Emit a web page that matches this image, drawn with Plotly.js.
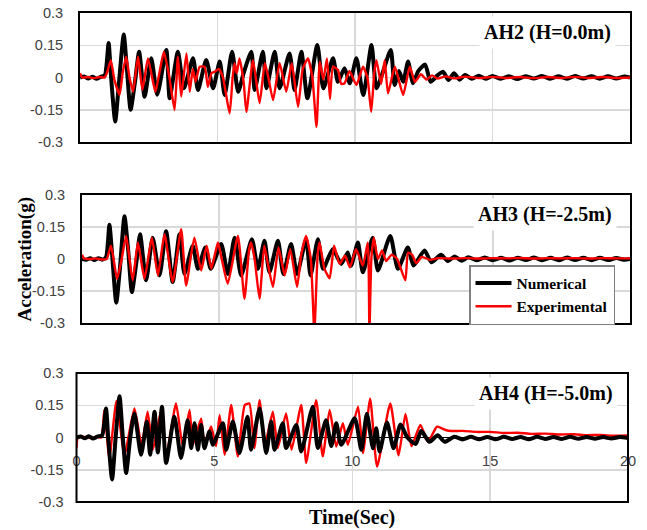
<!DOCTYPE html>
<html><head><meta charset="utf-8">
<script src="https://cdn.plot.ly/plotly-3.0.1.min.js"></script>
<style>html,body{margin:0;padding:0;background:#fff}</style>
</head><body>
<div id="chart" style="width:647px;height:530px"></div>
<script>
// ---- Data: [time (s), acceleration (g)] ----
const AH2_num = [[0,0],[0.15,0.005],[0.3,-0.005],[0.45,0.004],[0.6,-0.006],[0.75,0.003],[0.9,0.01],[1.04,0.16],[1.12,0.02],[1.28,-0.205],[1.4,-0.05],[1.59,0.2],[1.7,0.05],[1.84,-0.15],[2.0,-0.02],[2.15,0.12],[2.35,-0.09],[2.59,0.09],[2.81,-0.08],[3.14,0.128],[3.26,-0.097],[3.56,0.12],[3.78,-0.05],[4.11,0.089],[4.29,-0.058],[4.59,0.081],[4.84,-0.05],[5.08,0.074],[5.26,-0.081],[5.53,0.12],[5.75,-0.066],[5.95,0.02],[6.23,0.12],[6.35,-0.058],[6.65,0.12],[6.78,-0.05],[7.08,0.12],[7.26,-0.05],[7.62,0.112],[7.8,-0.058],[8.05,0.12],[8.27,-0.097],[8.63,0.151],[8.85,-0.05],[9.2,0.089],[9.38,-0.02],[9.62,0.043],[9.81,-0.027],[10.05,0.089],[10.3,-0.081],[10.6,0.151],[10.78,-0.05],[11.0,0.02],[11.3,0.128],[11.44,-0.035],[11.6,0.03],[11.75,-0.02],[11.93,0.074],[12.11,-0.027],[12.3,0.03],[12.55,0.06],[12.75,-0.02],[13.0,0.01],[13.2,0.027],[13.4,-0.012],[13.6,0.02],[13.8,-0.01],[14.0,0.012],[14.25,-0.006],[14.5,0.008],[14.75,-0.006],[15.0,0.007],[15.3,-0.006],[15.6,0.006],[15.9,-0.007],[16.2,0.006],[16.5,-0.005],[16.8,0.007],[17.1,-0.006],[17.4,0.006],[17.7,-0.006],[18.0,0.007],[18.3,-0.005],[18.6,0.006],[18.9,-0.006],[19.2,0.006],[19.5,-0.005],[19.8,0.005],[20,0]];
const AH2_exp = [[0,0.02],[0.08,0],[0.3,0.002],[0.5,-0.003],[0.7,0.002],[0.9,0],[1.0,0.03],[1.12,0.08],[1.25,-0.01],[1.44,-0.08],[1.55,0.02],[1.68,0.097],[1.8,0],[1.93,-0.066],[2.11,0.097],[2.27,-0.058],[2.47,0.089],[2.74,-0.066],[2.9,0.03],[3.05,0.12],[3.25,0],[3.44,-0.151],[3.56,0.097],[3.68,-0.089],[3.87,0.112],[3.99,-0.066],[4.1,0.04],[4.2,-0.02],[4.35,0.05],[4.53,0.05],[4.65,-0.043],[4.78,0.02],[4.9,0.027],[5.05,0.04],[5.2,0],[5.44,-0.167],[5.55,0],[5.62,0.066],[5.7,0.02],[5.8,0.089],[5.95,-0.02],[6.05,-0.16],[6.29,0.081],[6.53,-0.12],[6.72,0.066],[6.85,0],[7.02,-0.105],[7.26,0.066],[7.5,-0.066],[7.7,0.066],[7.93,-0.136],[8.1,0.04],[8.29,0.089],[8.45,0],[8.6,-0.229],[8.72,0.074],[8.85,-0.01],[8.98,0.089],[9.09,-0.1],[9.2,0.05],[9.38,0.035],[9.5,-0.03],[9.62,-0.027],[9.8,0.03],[10.05,-0.035],[10.29,0.05],[10.45,0],[10.59,-0.159],[10.7,0.02],[10.78,0.081],[10.95,-0.03],[11.08,0.081],[11.2,-0.074],[11.45,0.05],[11.75,-0.081],[11.99,0.05],[12.18,-0.02],[12.4,0.015],[12.6,-0.01],[12.8,0.01],[13.0,-0.005],[13.3,0.005],[13.6,-0.004],[14.0,0.004],[14.5,-0.003],[15.0,0.003],[15.5,-0.002],[16,0.002],[16.5,-0.003],[17,0.002],[17.5,-0.002],[18,0.003],[18.5,-0.002],[19,0.002],[19.5,-0.002],[20,0]];

const AH3_num = [[0,0],[0.15,-0.004],[0.3,0.004],[0.45,-0.005],[0.6,0.004],[0.75,-0.003],[0.88,0.01],[1.0,0.16],[1.1,0.02],[1.25,-0.205],[1.38,-0.05],[1.55,0.2],[1.68,0.05],[1.82,-0.155],[1.98,-0.02],[2.12,0.116],[2.34,-0.1],[2.58,0.1],[2.83,-0.077],[3.07,0.13],[3.31,-0.108],[3.56,0.116],[3.74,-0.07],[4.04,0.062],[4.23,-0.046],[4.5,0.054],[4.7,-0.046],[5.08,0.07],[5.32,-0.07],[5.57,0.1],[5.81,-0.077],[6.2,0.093],[6.42,-0.046],[6.66,0.085],[6.84,-0.062],[7.15,0.085],[7.35,-0.07],[7.63,0.07],[7.85,-0.07],[8.18,0.093],[8.34,-0.077],[8.61,0.093],[8.8,-0.046],[9.15,0.046],[9.46,-0.023],[9.7,0.031],[9.82,-0.031],[10.07,0.077],[10.25,-0.062],[10.61,0.1],[10.8,-0.054],[11.25,0.108],[11.53,-0.046],[11.89,0.054],[12.1,-0.031],[12.5,0.04],[12.75,-0.015],[13.1,0.02],[13.35,-0.01],[13.6,0.012],[13.85,-0.008],[14.1,0.008],[14.4,-0.006],[14.7,0.007],[15.0,-0.006],[15.3,0.006],[15.6,-0.007],[15.9,0.006],[16.2,-0.005],[16.5,0.007],[16.8,-0.006],[17.1,0.006],[17.4,-0.006],[17.7,0.007],[18.0,-0.005],[18.3,0.006],[18.6,-0.006],[18.9,0.006],[19.2,-0.005],[19.5,0.005],[19.8,-0.004],[20,0]];
const AH3_exp = [[0,0.02],[0.08,0.002],[0.3,0],[0.5,0.003],[0.7,-0.002],[0.9,0],[1.06,0.062],[1.28,-0.093],[1.45,0],[1.61,0.108],[1.85,-0.1],[2.04,0.077],[2.28,-0.093],[2.55,0.1],[2.77,-0.077],[3.01,0.116],[3.31,-0.108],[3.62,0.14],[3.8,-0.124],[4.1,0.1],[4.35,-0.054],[4.55,0.062],[4.72,-0.046],[4.96,0.077],[5.1,0],[5.32,-0.116],[5.69,0.108],[5.93,-0.186],[6.1,0.046],[6.17,0.077],[6.3,0],[6.48,-0.186],[6.65,0.062],[6.75,0],[6.97,-0.131],[7.17,0.054],[7.4,-0.077],[7.6,0.046],[7.85,-0.131],[8.0,0.02],[8.18,0.108],[8.35,0],[8.48,-0.34],[8.6,0.02],[8.67,0.077],[8.85,-0.046],[9.04,-0.09],[9.2,0.062],[9.4,-0.023],[9.6,0.015],[9.78,-0.039],[10.0,0.046],[10.25,-0.031],[10.43,0.077],[10.49,-0.34],[10.56,0],[10.65,0.1],[10.8,0],[10.95,0.04],[11.1,-0.01],[11.3,0.02],[11.5,0],[11.8,-0.1],[11.9,0.03],[12.05,0.02],[12.2,-0.02],[12.4,0.01],[12.7,-0.004],[13.0,0.004],[13.5,0.002],[14,0.004],[14.5,0.002],[15,0.004],[15.5,0.003],[16,0.005],[16.5,0.002],[17,0.004],[17.5,0.003],[18,0.004],[18.5,0.002],[19,0.004],[19.5,0.003],[20,0.003]];

const AH4_num = [[0,0],[0.15,0.005],[0.3,-0.004],[0.45,0.006],[0.6,-0.005],[0.75,0.004],[0.93,0.01],[1.07,0.135],[1.15,0],[1.29,-0.195],[1.42,0],[1.56,0.192],[1.68,0],[1.8,-0.165],[1.95,0],[2.1,0.112],[2.34,-0.08],[2.55,0.074],[2.67,-0.08],[2.83,0.12],[2.95,-0.07],[3.1,0.143],[3.25,-0.118],[3.55,0.097],[3.79,-0.095],[4.03,0.08],[4.16,-0.05],[4.28,0.066],[4.4,-0.057],[4.52,0.058],[4.64,-0.05],[4.82,0.028],[4.94,-0.034],[5.31,0.066],[5.43,-0.057],[5.67,0.074],[5.91,-0.072],[6.2,0.097],[6.33,-0.057],[6.64,0.135],[6.88,-0.072],[7.06,0.074],[7.18,-0.057],[7.48,0.066],[7.6,-0.049],[7.97,0.058],[8.15,-0.065],[8.57,0.143],[8.75,-0.049],[9.05,0.08],[9.24,-0.04],[9.42,0.066],[9.6,-0.034],[10.09,0.089],[10.33,-0.057],[10.53,0.11],[10.75,-0.05],[10.87,0.043],[10.99,-0.065],[11.26,0.07],[11.5,-0.05],[11.75,0.06],[12.0,0],[12.3,-0.03],[12.5,0.03],[12.8,-0.02],[13.1,0.01],[13.35,-0.02],[13.7,0.003],[14.0,-0.009],[14.3,0.003],[14.6,-0.008],[14.9,0.002],[15.2,-0.008],[15.5,0.003],[15.8,-0.007],[16.1,0.002],[16.4,-0.008],[16.7,0.003],[17.0,-0.007],[17.3,0.002],[17.6,-0.007],[17.9,0.003],[18.2,-0.006],[18.5,0.002],[18.8,-0.006],[19.1,0.002],[19.4,-0.005],[19.7,0.002],[20,-0.003]];
const AH4_exp = [[0,-0.05],[0.05,0],[0.3,0.003],[0.5,-0.002],[0.7,0.003],[0.9,0],[1.01,0.128],[1.19,-0.095],[1.45,0.17],[1.74,-0.08],[2.1,0.135],[2.36,-0.035],[2.58,0.12],[2.77,-0.057],[3.07,0.128],[3.25,-0.088],[3.61,0.158],[3.85,-0.04],[4.1,0.128],[4.22,-0.034],[4.52,0.089],[4.64,-0.034],[4.88,0.051],[5.06,-0.04],[5.19,0.105],[5.37,-0.08],[5.61,0.151],[5.85,-0.088],[6.1,0.15],[6.27,0.158],[6.45,-0.049],[6.64,0.174],[6.82,-0.042],[7.12,0.12],[7.3,-0.049],[7.6,0.112],[7.8,-0.057],[8.15,0.151],[8.33,-0.118],[8.69,0.174],[8.93,-0.088],[9.18,0.128],[9.42,-0.042],[9.66,0.066],[9.84,-0.034],[10.21,0.143],[10.39,-0.072],[10.65,0.181],[10.9,-0.135],[11.38,0.158],[11.68,-0.083],[11.93,0.11],[12.15,-0.04],[12.47,0.058],[12.75,-0.02],[13.07,0.05],[13.38,0.035],[13.6,0.03],[14,0.031],[14.5,0.026],[15,0.026],[15.5,0.021],[16,0.022],[16.5,0.017],[17,0.018],[17.5,0.014],[18,0.015],[18.5,0.011],[19,0.012],[19.5,0.008],[20,0.009]];

const yTicks = [-0.3, -0.15, 0, 0.15, 0.3];
const yTickText = ['-0.3', '-0.15', '0', '0.15', '0.3'];
const xTicks = [0, 5, 10, 15, 20];
const xTickText = ['0', '5', '10', '15', '20'];
const panelLabels = ['AH2 (H=0.0m)', 'AH3 (H=-2.5m)', 'AH4 (H=-5.0m)'];
const seriesNames = ['Numerical', 'Experimental'];

// ---- Build chart ----
const X = s => s.map(p => p[0]);
const Y = s => s.map(p => p[1]);
const black = {color: '#000000', width: 4, shape: 'spline', smoothing: 0.6};
const red = {color: '#ff0000', width: 2.4, shape: 'spline', smoothing: 0.5};

function tr(series, xa, ya, line, name, show) {
  return {x: X(series), y: Y(series), xaxis: xa, yaxis: ya, type: 'scatter', mode: 'lines',
          line: line, name: name, showlegend: show, hoverinfo: 'skip'};
}
const data = [
  tr(AH2_num, 'x', 'y', black, seriesNames[0], false),
  tr(AH2_exp, 'x', 'y', red, seriesNames[1], false),
  tr(AH3_num, 'x2', 'y2', black, seriesNames[0], true),
  tr(AH3_exp, 'x2', 'y2', red, seriesNames[1], true),
  tr(AH4_exp, 'x3', 'y3', red, seriesNames[1], false),
  tr(AH4_num, 'x3', 'y3', black, seriesNames[0], false)
];

const W = 647, H = 530;
const grid = '#d9d9d9';
const tickFont = {family: 'Liberation Sans, Arial, sans-serif', size: 14.5, color: '#404040'};
const serifBold = (sz) => ({family: 'Liberation Serif, Times New Roman, serif', size: sz, color: '#000', weight: 700});

function xa(domain, anchor, opts) {
  return Object.assign({domain: domain, range: [0, 20], anchor: anchor, tickvals: xTicks, ticktext: xTickText,
    showticklabels: false, ticks: '', showgrid: true, gridcolor: grid, gridwidth: 1.5, zeroline: false,
    showline: true, mirror: true, linecolor: '#000', linewidth: 2, fixedrange: true}, opts || {});
}
function ya(domain, anchor, opts) {
  return Object.assign({domain: domain, range: [-0.3, 0.3], anchor: anchor, tickvals: yTicks, ticktext: yTickText,
    ticks: '', showgrid: true, gridcolor: grid, gridwidth: 1.5, zeroline: false, tickfont: tickFont,
    ticklabelstandoff: 12, showline: true, mirror: true, linecolor: '#000', linewidth: 2, fixedrange: true}, opts || {});
}
const d1x = [80 / W, 630 / W], d1y = [1 - 142 / H, 1 - 13 / H];
const d2x = [82 / W, 630 / W], d2y = [1 - 323 / H, 1 - 195 / H];
const d3x = [76.5 / W, 628 / W], d3y = [1 - 502 / H, 1 - 373 / H];

const layout = {
  width: W, height: H, margin: {l: 0, r: 0, t: 0, b: 0},
  paper_bgcolor: '#fff', plot_bgcolor: '#fff', showlegend: true,
  xaxis: xa(d1x, 'y'), yaxis: ya(d1y, 'x'),
  xaxis2: xa(d2x, 'y2'), yaxis2: ya(d2y, 'x2'),
  xaxis3: xa(d3x, 'free', {position: (d3y[0] + d3y[1]) / 2, showline: false, mirror: false,
            showticklabels: true, tickfont: tickFont, ticklabelstandoff: 13}),
  yaxis3: ya(d3y, 'x3', {showline: false, mirror: false, zeroline: true, zerolinecolor: '#000', zerolinewidth: 1.5}),
  shapes: [{type: 'rect', xref: 'x3 domain', yref: 'y3 domain', x0: 0, x1: 1, y0: 0, y1: 1,
            line: {color: '#000', width: 2}, layer: 'above'}],
  legend: {x: 469 / W, y: 1 - 265 / H, xanchor: 'left', yanchor: 'top', bgcolor: '#fff',
           bordercolor: '#7f7f7f', borderwidth: 1.5, font: serifBold(15.5), traceorder: 'normal',
           itemwidth: 36, tracegroupgap: 0},
  annotations: [
    {text: panelLabels[0], xref: 'paper', yref: 'paper', x: 616 / W, y: 1 - 33 / H, xanchor: 'right', yanchor: 'middle',
     showarrow: false, font: serifBold(20), bgcolor: '#fff', borderpad: 4},
    {text: panelLabels[1], xref: 'paper', yref: 'paper', x: 617 / W, y: 1 - 214 / H, xanchor: 'right', yanchor: 'middle',
     showarrow: false, font: serifBold(20), bgcolor: '#fff', borderpad: 4},
    {text: panelLabels[2], xref: 'paper', yref: 'paper', x: 618 / W, y: 1 - 394 / H, xanchor: 'right', yanchor: 'middle',
     showarrow: false, font: serifBold(20), bgcolor: '#fff', borderpad: 4},
    {text: 'Acceleration(g)', xref: 'paper', yref: 'paper', x: 24.5 / W, y: 1 - 259 / H, xanchor: 'center', yanchor: 'middle',
     textangle: -90, showarrow: false, font: serifBold(19)},
    {text: 'Time(Sec)', xref: 'paper', yref: 'paper', x: 352 / W, y: 1 - 517 / H, xanchor: 'center', yanchor: 'middle',
     showarrow: false, font: serifBold(20)}
  ]
};
Plotly.newPlot('chart', data, layout, {displayModeBar: false, staticPlot: true});
</script>
</body></html>
